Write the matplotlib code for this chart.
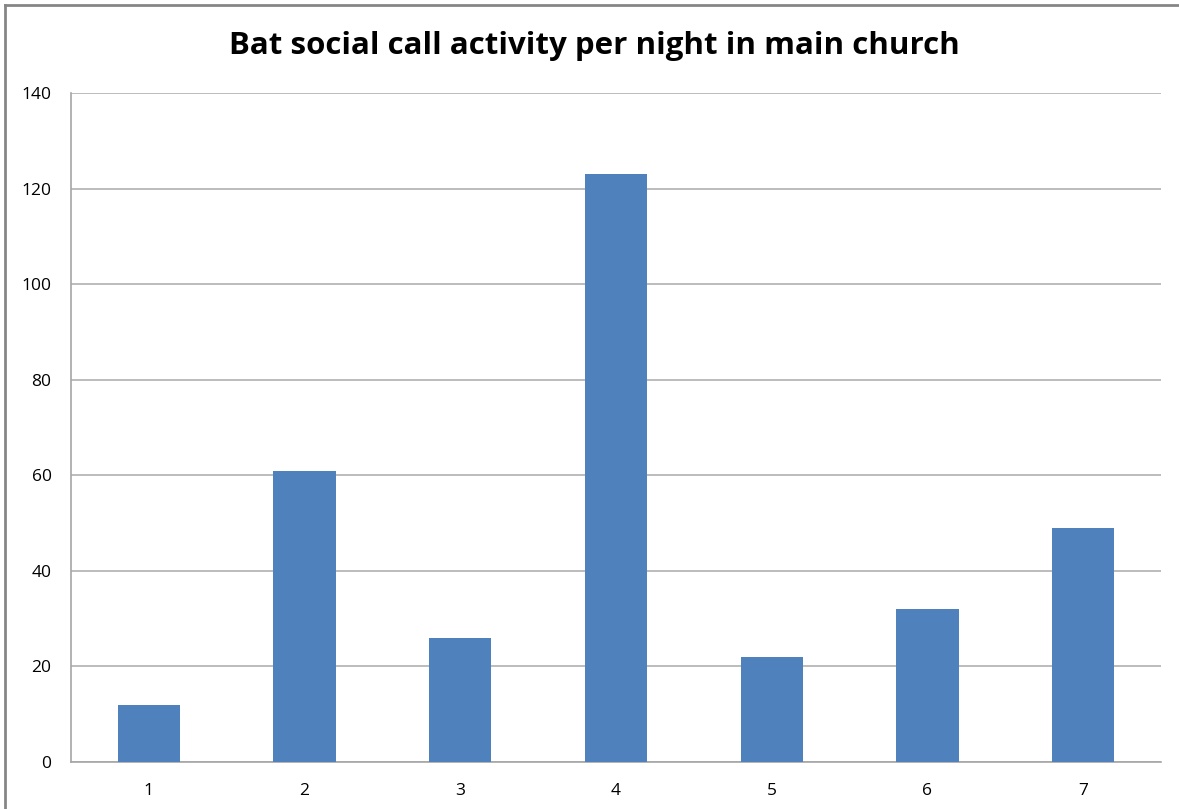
import matplotlib
matplotlib.use('Agg')
import matplotlib.pyplot as plt
from matplotlib.lines import Line2D

# data
nights = ['1', '2', '3', '4', '5', '6', '7']
calls = [12, 61, 26, 123, 22, 32, 49]
yticks = [0, 20, 40, 60, 80, 100, 120, 140]

plt.rcParams['font.family'] = ['Open Sans', 'DejaVu Sans']

fig = plt.figure(figsize=(11.79, 8.09), dpi=100)
ax = fig.add_axes([71 / 1179, 1 - 762 / 809, 1090 / 1179, 669 / 809])

x = list(range(len(nights)))
ax.bar(x, calls, width=0.4, color='#4f81bd', zorder=3)

ax.set_xlim(-0.5, len(nights) - 0.5)
ax.set_ylim(0, 140)
ax.set_xticks(x)
ax.set_xticklabels(nights)
ax.set_yticks(yticks)
ax.tick_params(axis='both', length=0, labelsize=12.5, colors='black')
ax.tick_params(axis='x', pad=15)
ax.tick_params(axis='y', pad=14)

ax.yaxis.grid(True, color='#b0b0b0', linewidth=1.2, zorder=0)
for side in ['top', 'right']:
    ax.spines[side].set_visible(False)
for side in ['left', 'bottom']:
    ax.spines[side].set_color('#a6a6a6')
    ax.spines[side].set_linewidth(1.2)

fig.text(594 / 1179, 1 - 46 / 809, 'Bat social call activity per night in main church',
         ha='center', va='center', fontsize=22.5, fontweight='bold')

# chart area border (top and left visible in reference)
fig.add_artist(Line2D([5 / 1179, 1], [1 - 5 / 809, 1 - 5 / 809], transform=fig.transFigure,
                      color='#868686', linewidth=2))
fig.add_artist(Line2D([5 / 1179, 5 / 1179], [0, 1 - 5 / 809], transform=fig.transFigure,
                      color='#868686', linewidth=2))

fig.savefig('out.png', dpi=100)
